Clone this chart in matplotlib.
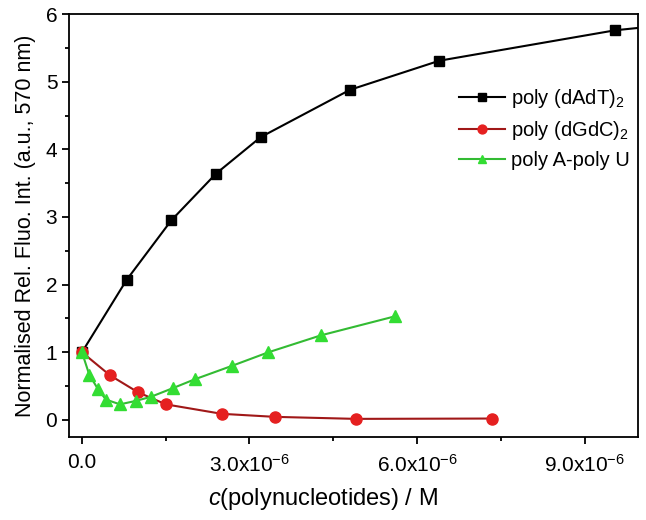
import matplotlib.pyplot as plt
from matplotlib.ticker import MultipleLocator, FuncFormatter

plt.rcParams['font.family'] = ['Liberation Sans', 'DejaVu Sans']
plt.rcParams['mathtext.fontset'] = 'custom'
plt.rcParams['mathtext.rm'] = 'Liberation Sans'
plt.rcParams['mathtext.it'] = 'Liberation Sans:italic'

# data
at_x = [0.0, 0.8e-6, 1.6e-6, 2.4e-6, 3.2e-6, 4.8e-6, 6.4e-6, 9.55e-6, 11.2e-6]
at_y = [1.0, 2.07, 2.95, 3.64, 4.18, 4.88, 5.31, 5.76, 5.9]

gc_x = [0.0, 0.5e-6, 1.0e-6, 1.5e-6, 2.5e-6, 3.45e-6, 4.9e-6, 7.35e-6]
gc_y = [1.0, 0.66, 0.41, 0.23, 0.09, 0.045, 0.015, 0.02]

au_x = [0.0, 0.13e-6, 0.29e-6, 0.43e-6, 0.68e-6, 0.96e-6, 1.23e-6, 1.63e-6,
        2.02e-6, 2.69e-6, 3.34e-6, 4.28e-6, 5.6e-6]
au_y = [1.0, 0.67, 0.45, 0.30, 0.23, 0.28, 0.34, 0.47, 0.60, 0.80, 1.0, 1.25, 1.53]

labels = ["poly (dAdT)$_2$", "poly (dGdC)$_2$", "poly A-poly U"]


def sci(v, pos):
    if abs(v) < 1e-12:
        return "0.0"
    return "%.1fx10$^{-6}$" % (v * 1e6)


fig = plt.figure(figsize=(6.46, 5.20), dpi=100)
ax = fig.add_axes([0.107, 0.16, 0.88, 0.813])

ax.plot(at_x, at_y, color="black", lw=1.5, marker="s", ms=7, mfc="black",
        mec="black", label=labels[0])
ax.plot(gc_x, gc_y, color="#a01818", lw=1.5, marker="o", ms=8, mfc="#e52020",
        mec="#e52020", label=labels[1])
ax.plot(au_x, au_y, color="#33bb33", lw=1.5, marker="^", ms=8, mfc="#33dd33",
        mec="#33dd33", label=labels[2])

ax.set_xlim(-0.23e-6, 9.95e-6)
ax.set_ylim(-0.25, 6.0)

ax.xaxis.set_major_locator(MultipleLocator(3e-6))
ax.xaxis.set_minor_locator(MultipleLocator(1.5e-6))
ax.xaxis.set_major_formatter(FuncFormatter(sci))
ax.yaxis.set_major_locator(MultipleLocator(1))
ax.yaxis.set_minor_locator(MultipleLocator(0.5))

ax.tick_params(which="major", direction="out", length=5, width=1.3, labelsize=15)
ax.tick_params(which="minor", direction="out", length=3, width=1.3)
ax.tick_params(axis="x", pad=7)
for s in ax.spines.values():
    s.set_linewidth(1.3)

ax.set_xlabel("$\\mathit{c}$(polynucleotides) / M", fontsize=17)
ax.xaxis.set_label_coords(0.447, -0.117)
ax.set_ylabel("Normalised Rel. Fluo. Int. (a.u., 570 nm)", fontsize=15.5, labelpad=7)

ax.legend(loc="upper right", bbox_to_anchor=(1.018, 0.87), frameon=False,
          fontsize=14.5, handlelength=2.3, handletextpad=0.3, labelspacing=0.45,
          markerscale=0.8)

fig.savefig("out.png", dpi=100)
